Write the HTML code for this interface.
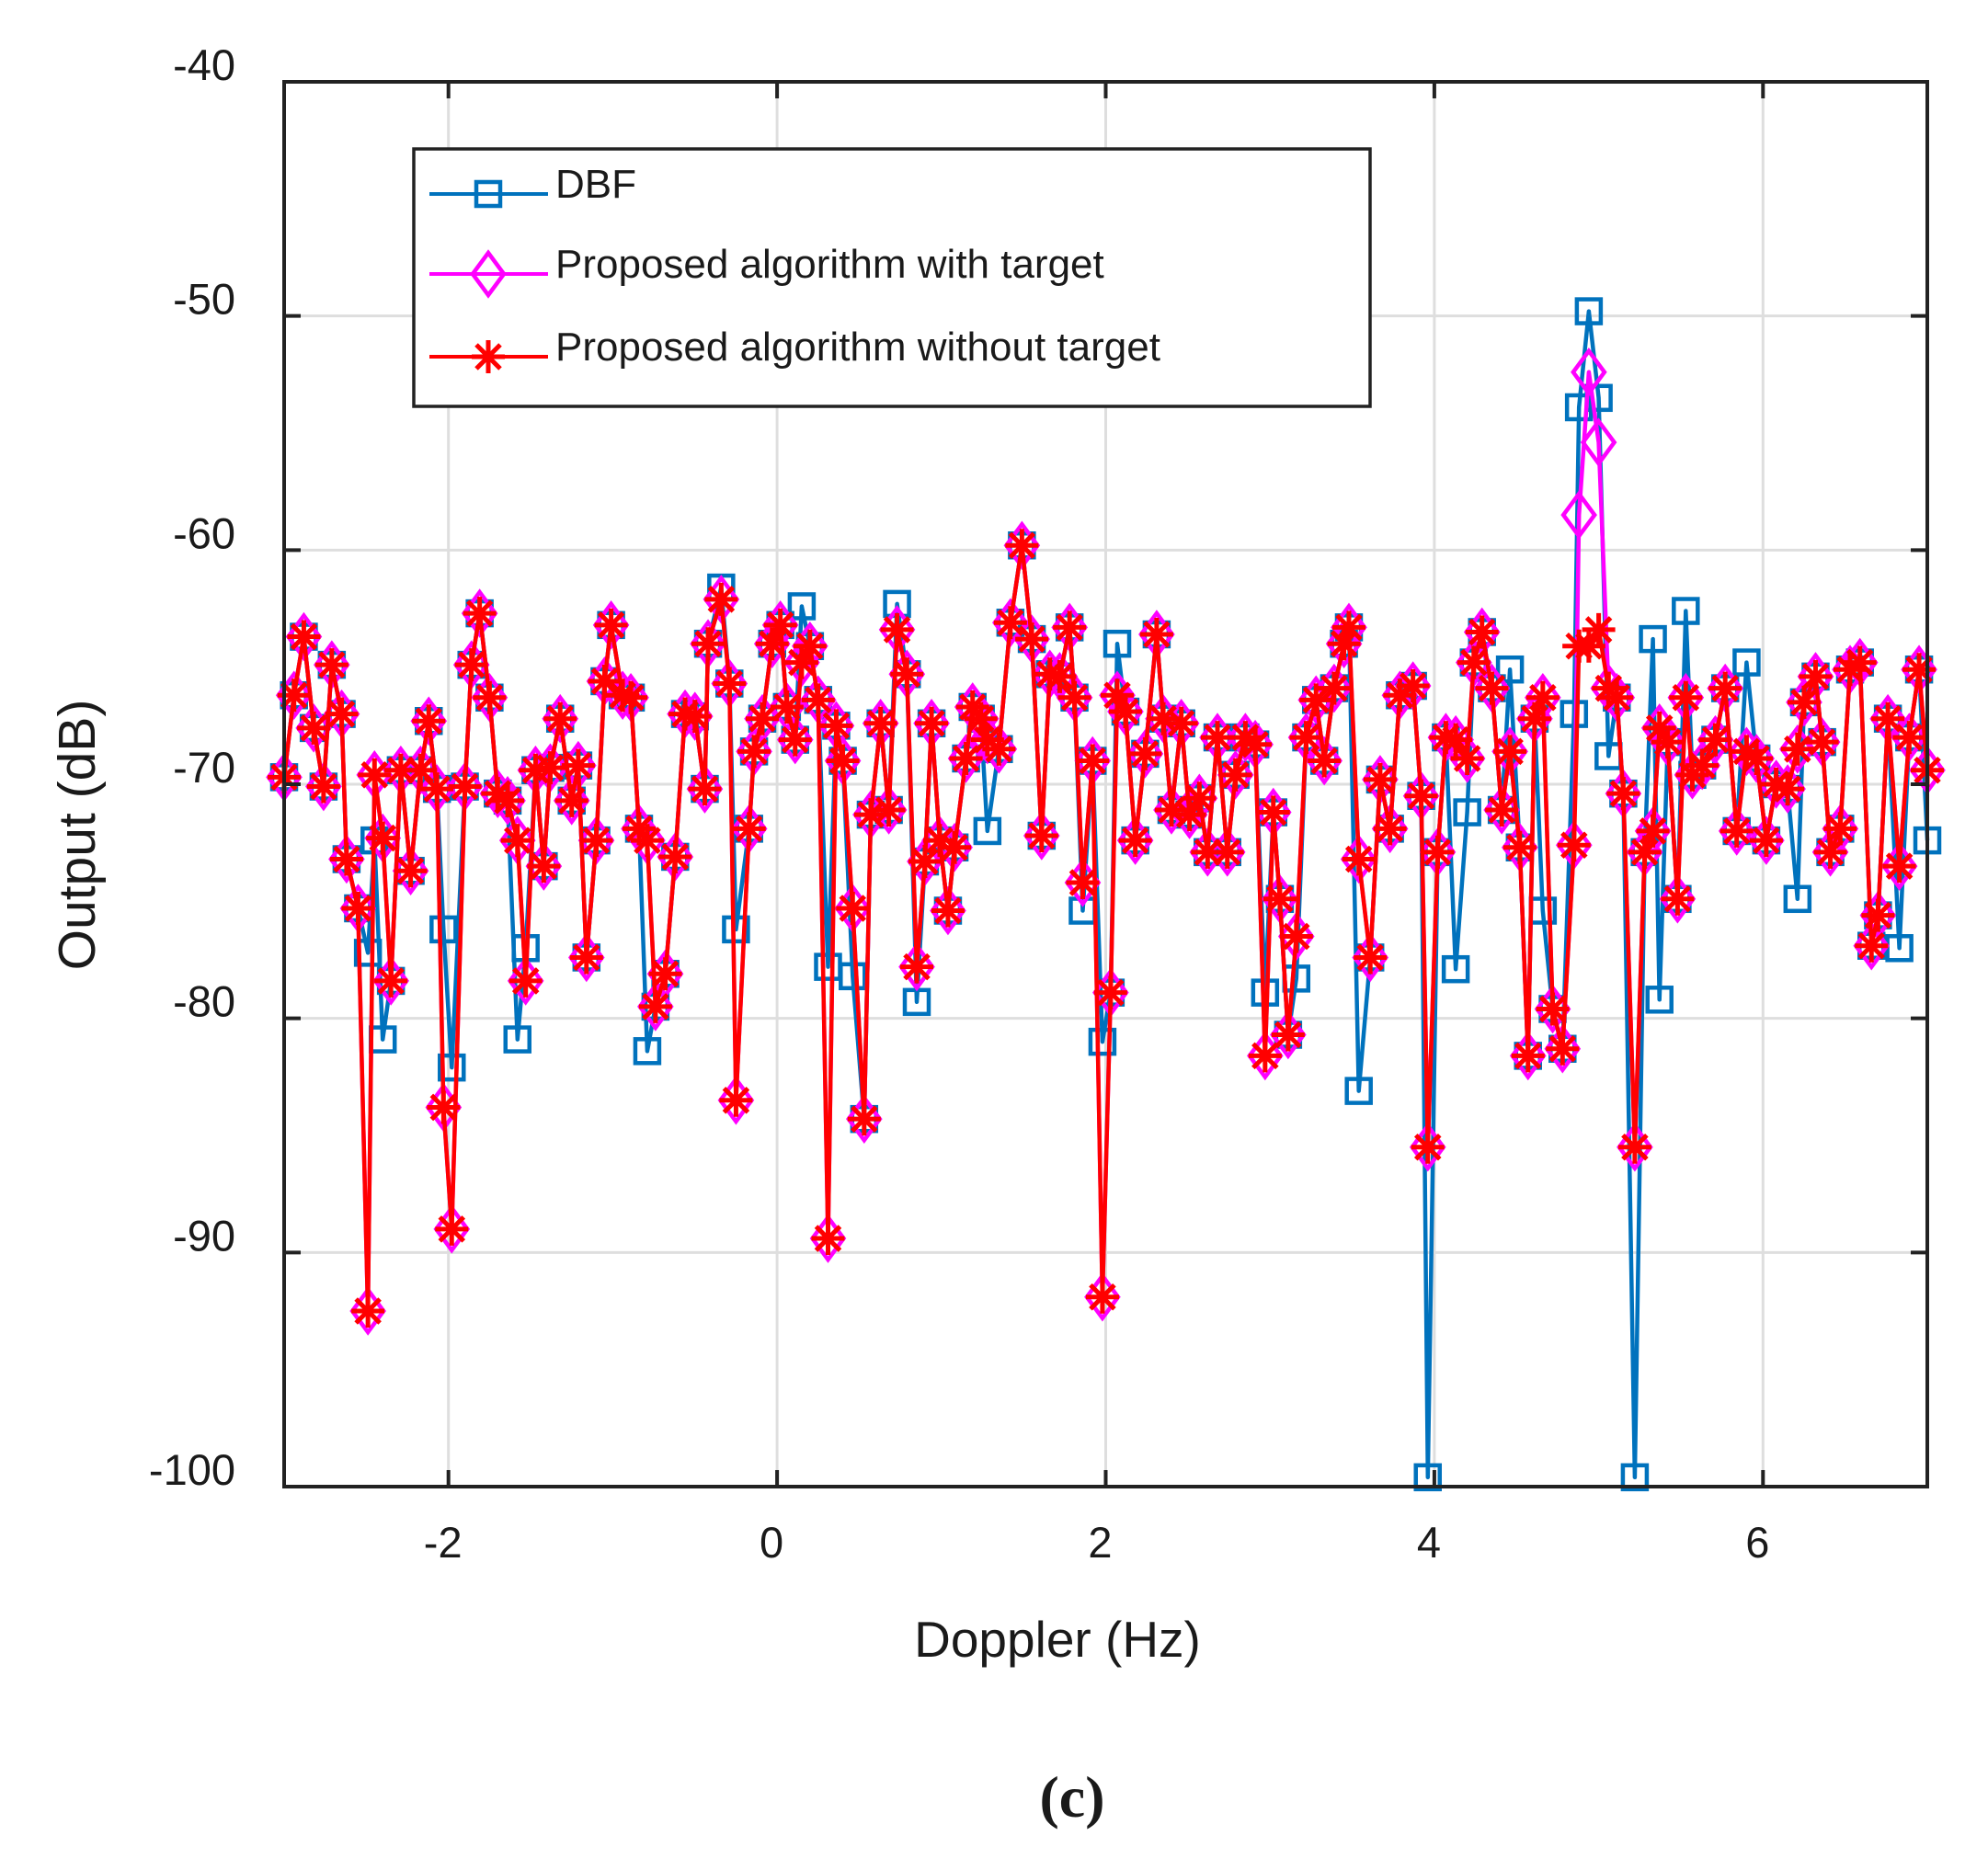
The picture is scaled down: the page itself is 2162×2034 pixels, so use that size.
<!DOCTYPE html>
<html><head><meta charset="utf-8">
<style>
html,body{margin:0;padding:0;background:#fff;}
svg{display:block;}
text{font-family:"Liberation Sans",Arial,sans-serif;fill:#1a1a1a;}
</style></head>
<body>
<svg id="chart" width="2162" height="2034" viewBox="0 0 2162 2034" xmlns="http://www.w3.org/2000/svg">
  <rect x="0" y="0" width="2162" height="2034" fill="#fff"/>
  <g id="grid"></g>
  <g id="series"></g>
  <g id="axes"></g>
  <text x="1150" y="1802" font-size="55" text-anchor="middle">Doppler (Hz)</text>
  <text transform="translate(103,908) rotate(-90)" font-size="57" text-anchor="middle">Output (dB)</text>
  <text x="1166" y="1976" font-size="64" font-weight="bold" text-anchor="middle" style="font-family:'Liberation Serif',serif">(c)</text>
  <g id="legend"></g>
</svg>
<script>
// ---- data ----
const xTicks = [-2, 0, 2, 4, 6];
const yTicks = [-40, -50, -60, -70, -80, -90, -100];
const doppler = [-3.00,-2.94,-2.88,-2.82,-2.76,-2.71,-2.65,-2.62,-2.55,-2.49,-2.45,-2.40,-2.35,-2.29,-2.23,-2.17,-2.12,-2.07,-2.03,-1.98,-1.90,-1.86,-1.81,-1.75,-1.70,-1.64,-1.58,-1.53,-1.47,-1.42,-1.38,-1.32,-1.25,-1.21,-1.16,-1.10,-1.05,-1.01,-0.94,-0.89,-0.84,-0.79,-0.74,-0.68,-0.62,-0.56,-0.50,-0.44,-0.42,-0.34,-0.29,-0.25,-0.17,-0.14,-0.09,-0.03,0.02,0.06,0.11,0.15,0.20,0.25,0.31,0.36,0.40,0.46,0.53,0.57,0.63,0.68,0.73,0.79,0.85,0.90,0.94,0.99,1.04,1.08,1.15,1.19,1.24,1.28,1.35,1.42,1.49,1.55,1.61,1.66,1.72,1.78,1.81,1.86,1.92,1.98,2.03,2.07,2.12,2.18,2.24,2.31,2.35,2.40,2.46,2.51,2.57,2.62,2.68,2.74,2.79,2.85,2.91,2.97,3.02,3.06,3.11,3.16,3.22,3.28,3.33,3.39,3.45,3.48,3.54,3.61,3.67,3.73,3.79,3.87,3.92,3.96,4.02,4.07,4.13,4.20,4.24,4.29,4.35,4.41,4.46,4.52,4.57,4.61,4.66,4.72,4.78,4.85,4.88,4.94,5.00,5.06,5.11,5.15,5.22,5.28,5.33,5.37,5.42,5.48,5.53,5.57,5.63,5.71,5.77,5.84,5.90,5.96,6.02,6.08,6.15,6.21,6.25,6.32,6.36,6.41,6.47,6.53,6.59,6.66,6.70,6.76,6.83,6.89,6.95,7.00];
const withoutTargetDb = [-69.7,-66.2,-63.7,-67.6,-70.1,-64.9,-67,-73.2,-75.3,-92.5,-69.6,-72.3,-78.4,-69.4,-73.7,-69.4,-67.3,-70.2,-83.8,-89,-70.1,-64.9,-62.7,-66.3,-70.4,-70.7,-72.4,-78.4,-69.4,-73.5,-69.3,-67.2,-70.7,-69.2,-77.4,-72.4,-65.6,-63.2,-66.2,-66.3,-71.9,-72.4,-79.5,-78.1,-73.1,-67,-67.1,-70.2,-64,-62.1,-65.7,-83.5,-71.9,-68.6,-67.2,-64,-63.2,-66.7,-68.1,-64.8,-64.1,-66.4,-89.4,-67.5,-69,-75.3,-84.3,-71.3,-67.4,-71.1,-63.4,-65.3,-77.8,-73.3,-67.4,-72.4,-75.4,-72.7,-68.9,-66.7,-67.2,-68.1,-68.5,-63.1,-59.8,-63.8,-72.2,-65.3,-65.4,-63.3,-66.3,-74.2,-69,-91.9,-78.9,-66.2,-66.9,-72.4,-68.7,-63.6,-67.2,-71.1,-67.4,-71.3,-70.6,-72.9,-68,-72.9,-69.6,-68,-68.3,-81.6,-71.2,-74.9,-80.7,-76.5,-68,-66.4,-69,-65.9,-64,-63.3,-73.2,-77.4,-69.8,-71.9,-66.2,-65.8,-70.5,-85.5,-72.9,-68,-68.1,-68.9,-64.8,-63.5,-65.9,-71.1,-68.6,-72.7,-81.6,-67.2,-66.3,-79.6,-81.3,-72.6,-64.1,-64.1,-63.4,-65.9,-66.3,-70.4,-85.5,-72.9,-72,-67.6,-68.2,-74.9,-66.3,-69.6,-69.2,-68.1,-65.9,-72,-68.6,-68.9,-72.4,-70,-70.2,-68.5,-66.5,-65.4,-68.2,-72.9,-71.9,-65.1,-64.8,-76.9,-75.6,-67.2,-73.5,-68,-65.1,-69.4];
// DBF differs from the proposed algorithm at these Doppler bins
const dbfDiffHz = [-2.49,-2.45,-2.40,-2.03,-1.98,-1.58,-1.53,-0.77,-0.34,-0.25,0.15,0.31,0.46,0.73,0.85,1.30,1.86,1.98,2.07,2.97,3.16,3.54,3.96,4.13,4.20,4.46,4.66,4.85,4.88,4.94,5.00,5.06,5.22,5.33,5.37,5.53,5.90,6.21,6.83,7.0];
const dbfDiffDb = [-77.2,-72.4,-80.9,-76.2,-82.1,-80.9,-77,-81.4,-61.6,-76.2,-62.4,-77.8,-78.2,-62.3,-79.3,-72,-75.4,-81,-64,-78.9,-78.3,-83.1,-99.6,-77.9,-71.2,-65.1,-75.4,-67,-53.9,-49.8,-53.5,-68.8,-99.6,-63.8,-79.2,-62.6,-64.8,-74.9,-77,-72.4];
// With-target series differs near the target peak
const targetDiffHz = [4.88, 4.94, 5.00];
const targetDiffDb = [-58.5, -52.4, -55.4];

// ---- scales ----
const L=309, R=2096, T=89, B=1617;
const xMin=-3, xMax=7, yMin=-100, yMax=-40;
const sx = v => L + (v-xMin)/(xMax-xMin)*(R-L);
const sy = v => B - (v-yMin)/(yMax-yMin)*(B-T);
const NS='http://www.w3.org/2000/svg';
function mk(tag, attrs, parent){const e=document.createElementNS(NS,tag);for(const k in attrs)e.setAttribute(k,attrs[k]);parent.appendChild(e);return e;}

const n = Math.min(doppler.length, withoutTargetDb.length);
const idxOf = hz => {let b=0;for(let i=0;i<n;i++){if(Math.abs(doppler[i]-hz)<Math.abs(doppler[b]-hz))b=i;}return b;};
const redDb = withoutTargetDb.slice(0,n);
const dbfDb = redDb.slice();
dbfDiffHz.forEach((hz,k)=>{dbfDb[idxOf(hz)]=dbfDiffDb[k];});
const withTargetDb = redDb.slice();
targetDiffHz.forEach((hz,k)=>{withTargetDb[idxOf(hz)]=targetDiffDb[k];});

// ---- grid ----
const grid=document.getElementById('grid');
xTicks.forEach(t=>{const l=mk('line',{x1:sx(t),x2:sx(t),y1:T,y2:B,stroke:'#dedede','stroke-width':3},grid);

});
yTicks.forEach(t=>{const l=mk('line',{x1:L,x2:R,y1:sy(t),y2:sy(t),stroke:'#dedede','stroke-width':3},grid);

});

// ---- markers ----
function square(g,x,y,c){const e=mk('rect',{x:x-13,y:y-13,width:26,height:26,fill:'none',stroke:c,'stroke-width':4.5},g);

}
function diamond(g,x,y,c){const e=mk('polygon',{points:`${x},${y-23} ${x+17},${y} ${x},${y+23} ${x-17},${y}`,fill:'none',stroke:c,'stroke-width':4.5},g);

}
function star(g,x,y,c){const e=mk('path',{d:`M${x-18},${y}H${x+18}M${x},${y-18}V${y+18}M${x-13},${y-13}L${x+13},${y+13}M${x-13},${y+13}L${x+13},${y-13}`,stroke:c,'stroke-width':5,fill:'none'},g);

}

const ser=document.getElementById('series');
function drawSeries(vals,color,marker,name){
  const g=mk('g',{},ser);
  
  
  const pts=vals.map((v,i)=>sx(doppler[i]).toFixed(1)+','+sy(v).toFixed(1)).join(' ');
  const pl=mk('polyline',{points:pts,fill:'none',stroke:color,'stroke-width':4.5,'stroke-linejoin':'round'},g);
  
  
  vals.forEach((v,i)=>marker(g,sx(doppler[i]),sy(v),color));
}
drawSeries(dbfDb,'#0072BD',square,'dbf-series');
drawSeries(withTargetDb,'#FF00FF',diamond,'with-target-series');
drawSeries(redDb,'#FF0000',star,'without-target-series');

// ---- axes ----
const ax=document.getElementById('axes');
const box=mk('rect',{x:L,y:T,width:R-L,height:B-T,fill:'none',stroke:'#222','stroke-width':4},ax);


xTicks.forEach(t=>{
  mk('line',{x1:sx(t),x2:sx(t),y1:B,y2:B-18,stroke:'#222','stroke-width':4},ax);
  mk('line',{x1:sx(t),x2:sx(t),y1:T,y2:T+18,stroke:'#222','stroke-width':4},ax);
  const tx=mk('text',{x:sx(t)-6,y:1694,'font-size':47,'text-anchor':'middle'},ax);
  tx.textContent=String(t);
  
  
});
yTicks.forEach(t=>{
  mk('line',{x1:L,x2:L+18,y1:sy(t),y2:sy(t),stroke:'#222','stroke-width':4},ax);
  mk('line',{x1:R,x2:R-18,y1:sy(t),y2:sy(t),stroke:'#222','stroke-width':4},ax);
  const tx=mk('text',{x:256,y:sy(t)-2,'font-size':47,'text-anchor':'end'},ax);
  tx.textContent=String(t);
  
  
});

// ---- legend ----
const lg=document.getElementById('legend');
const lb=mk('rect',{x:450,y:162,width:1040,height:280,fill:'#fff',stroke:'#222','stroke-width':3.5},lg);


const legendLabels=['DBF','Proposed algorithm with target','Proposed algorithm without target'];
const legendColors=['#0072BD','#FF00FF','#FF0000'];
const legendMarkers=[square,diamond,star];
const legendRowY=[211,298,388];
legendLabels.forEach((lab,i)=>{
  const g=mk('g',{},lg);
  
  
  mk('line',{x1:467,x2:596,y1:legendRowY[i],y2:legendRowY[i],stroke:legendColors[i],'stroke-width':4},g);
  legendMarkers[i](g,531,legendRowY[i],legendColors[i]);
  const tx=mk('text',{x:604,y:legendRowY[i]+4,'font-size':44},g);
  tx.textContent=lab;
  
  
});
</script>
</body></html>
